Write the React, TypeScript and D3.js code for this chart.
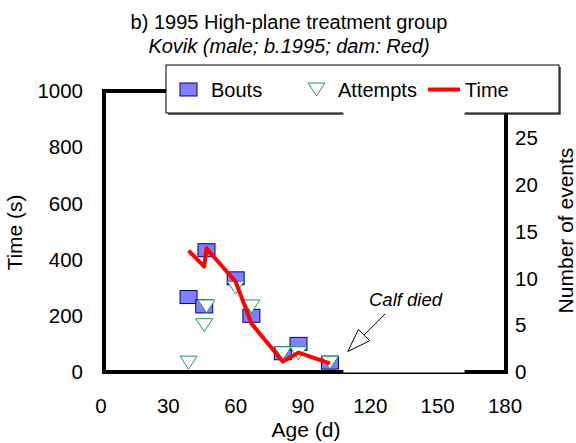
import React from "react";
import * as d3 from "d3";

// Suckling behaviour of one calf over age
const ages = [39, 46, 47, 60, 67, 81, 88, 102];
const bouts = [8, 7, 13, 10, 6, 2, 3, 1];
const attempts = [1, 5, 7, 9, 7, 2, 2, 1];
const timeSec = [432, 375, 440, 321, 173, 37, 69, 31];

const xTicks = [0, 30, 60, 90, 120, 150, 180];
const yLeftTicks = [0, 200, 400, 600, 800, 1000];
const yRightTicks = [0, 5, 10, 15, 20, 25];

const titleText = "b) 1995 High-plane treatment group";
const subtitleText = "Kovik (male; b.1995; dam: Red)";
const legendLabels = ["Bouts", "Attempts", "Time"];

// Annotation in data units (age, events)
const noteAge = [108, 162];
const arrowTail = [126.6, 6.2];
const arrowTip = [110, 2.2];

const W = 576;
const H = 443;
const FONT = "'Liberation Sans', Arial, sans-serif";

const x = d3.scaleLinear().domain([0, 180]).range([101, 505]);
const yL = d3.scaleLinear().domain([0, 1000]).range([372, 91]);
const yR = d3.scaleLinear().domain([0, 30]).range([372, 91]);

const BLUE_FILL = "#8080ff";
const BLUE_EDGE = "#000080";
const GREEN = "#17995a";
const RED = "#ff0000";

function Square({ cx, cy }: { cx: number; cy: number }) {
  return (
    <rect x={cx - 8.5} y={cy - 6.5} width={17} height={13}
      fill={BLUE_FILL} stroke={BLUE_EDGE} strokeWidth={1} />
  );
}

function Tri({ cx, cy }: { cx: number; cy: number }) {
  const p = `M${cx - 8.5},${cy - 6.5}L${cx + 8.5},${cy - 6.5}L${cx},${cy + 6.5}Z`;
  return <path d={p} fill="#fff" stroke={GREEN} strokeWidth={1} />;
}

export default function App() {
  const left = x(0) + 3;
  const right = x(180) + 1;
  const top = yL(1000);
  const bottom = yL(0);

  const line = d3
    .line<number>()
    .x((_, i) => x(ages[i]))
    .y((d) => yL(d));

  // Arrow geometry
  const tx = x(arrowTip[0]);
  const ty = yR(arrowTip[1]);
  const sx = x(arrowTail[0]);
  const sy = yR(arrowTail[1]);
  const len = Math.hypot(sx - tx, sy - ty);
  const ux = (sx - tx) / len;
  const uy = (sy - ty) / len;
  const headLen = 23;
  const headHalf = 8;
  const bx = tx + ux * headLen;
  const by = ty + uy * headLen;
  const head = `M${tx},${ty}L${bx - uy * headHalf},${by + ux * headHalf}L${bx + uy * headHalf},${by - ux * headHalf}Z`;

  // Legend box
  const lg = { x: 166, y: 65, w: 393, h: 48 };

  return (
    <svg width={W} height={H} style={{ position: "absolute", left: 0, top: 0, background: "#fff" }}
      fontFamily={FONT}>
      <rect width={W} height={H} fill="#fff" />

      {/* Titles */}
      <text x={289} y={29} textAnchor="middle" fontSize={20}>{titleText}</text>
      <text x={289} y={53} textAnchor="middle" fontSize={20} fontStyle="italic">{subtitleText}</text>

      {/* Plot frame */}
      <path d={`M${left},${bottom}V${top}H${right}V${bottom}Z`} fill="none" stroke="#000"
        strokeWidth={4} strokeLinejoin="miter" />

      {/* Left axis labels */}
      {yLeftTicks.map((t) => (
        <text key={"l" + t} x={83} y={yL(t)} dy="0.35em" textAnchor="end" fontSize={20.5}>{t}</text>
      ))}
      {/* Right axis labels */}
      {yRightTicks.map((t) => (
        <text key={"r" + t} x={515} y={yR(t)} dy="0.35em" textAnchor="start" fontSize={20.5}>{t}</text>
      ))}
      {/* Bottom axis labels */}
      {xTicks.map((t) => (
        <text key={"x" + t} x={x(t)} y={413} textAnchor="middle" fontSize={20.5}>{t}</text>
      ))}

      {/* Axis titles */}
      <text transform={`translate(22,${(top + bottom) / 2 + 1}) rotate(-90)`} textAnchor="middle" fontSize={21}>Time (s)</text>
      <text transform={`translate(573,${(top + bottom) / 2 - 1}) rotate(-90)`} textAnchor="middle" fontSize={21}>Number of events</text>
      <text x={(left + right) / 2 + 1} y={437} textAnchor="middle" fontSize={21}>Age (d)</text>

      {/* Legend */}
      <path d={`M${lg.x + 2},${lg.y + lg.h + 1}H${lg.x + lg.w + 1}V${lg.y + 2}`} fill="none"
        stroke="#333" strokeWidth={1.5} />
      <rect x={lg.x} y={lg.y} width={lg.w} height={lg.h} fill="#fff" stroke="#000" strokeWidth={1} />
      <Square cx={188.5} cy={89.5} />
      <text x={211} y={97} fontSize={20}>{legendLabels[0]}</text>
      <Tri cx={316.5} cy={89.5} />
      <text x={338} y={97} fontSize={20}>{legendLabels[1]}</text>
      <line x1={428} x2={460} y1={89.5} y2={89.5} stroke={RED} strokeWidth={4} />
      <text x={465} y={97} fontSize={20}>{legendLabels[2]}</text>

      {/* Annotation text box */}
      <rect x={x(noteAge[0])} y={lg.y + lg.h - 1} width={x(noteAge[1]) - x(noteAge[0])}
        height={bottom + 0.5 - (lg.y + lg.h - 1)} fill="#fff" />

      {/* Series */}
      {ages.map((a, i) => <Square key={"b" + i} cx={x(a)} cy={yR(bouts[i])} />)}
      {ages.map((a, i) => <Tri key={"a" + i} cx={x(a)} cy={yR(attempts[i])} />)}
      <path d={line(timeSec) || ""} fill="none" stroke={RED} strokeWidth={4}
        strokeLinejoin="round" strokeLinecap="butt" />

      {/* Annotation */}
      <text x={369} y={306} fontSize={18.5} fontStyle="italic">Calf died</text>
      <line x1={sx} y1={sy} x2={bx} y2={by} stroke="#000" strokeWidth={1} />
      <path d={head} fill="#fff" stroke="#000" strokeWidth={1} />
    </svg>
  );
}
